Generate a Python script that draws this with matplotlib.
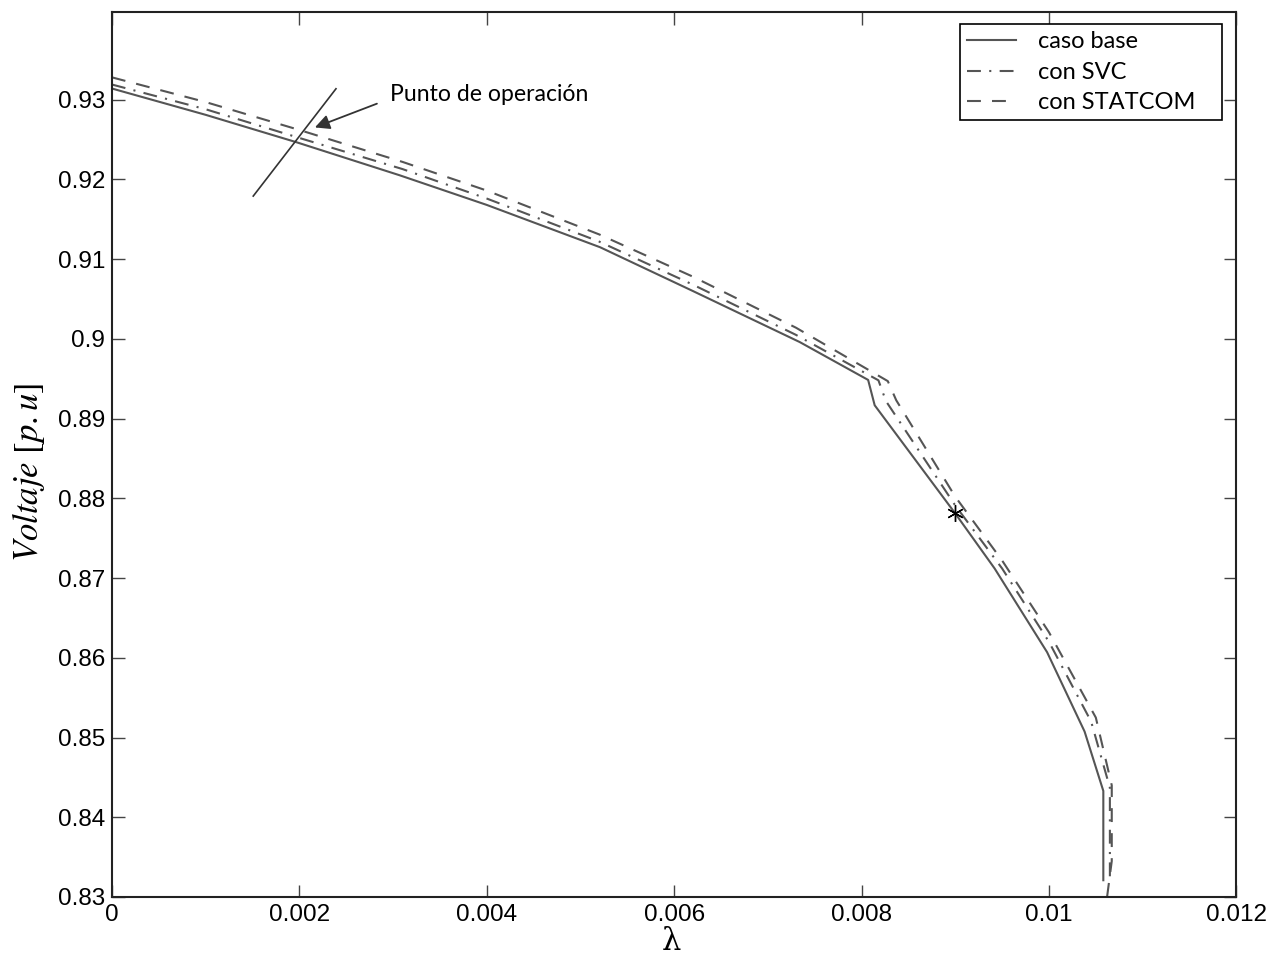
import numpy as np
import matplotlib
matplotlib.use("Agg")
import matplotlib.pyplot as plt

# curva P-V, valores
lam_base = [0.0, 0.001, 0.00197, 0.00307, 0.004, 0.00521, 0.0062, 0.00734, 0.00807, 0.00814,
            0.0090, 0.00942, 0.00998, 0.01038, 0.01058, 0.01058]
v_base = [0.9314, 0.9281, 0.92466, 0.92052, 0.9168, 0.91149, 0.9060, 0.8996, 0.89485, 0.89167,
          0.8781, 0.8712, 0.8607, 0.85075, 0.8433, 0.8321]

lam_svc = [0.0, 0.001, 0.002, 0.0031, 0.004, 0.0052, 0.0062, 0.0073, 0.00818, 0.00826,
           0.0090, 0.0095, 0.0100, 0.01045, 0.01065, 0.01065]
v_svc = [0.9319, 0.9288, 0.9252, 0.9213, 0.9176, 0.9122, 0.9068, 0.9005, 0.8948, 0.8922,
         0.8791, 0.8712, 0.8620, 0.8520, 0.8437, 0.8320]

lam_statcom = [0.0, 0.001, 0.002, 0.0031, 0.004, 0.0052, 0.0062, 0.0073, 0.00828, 0.00837,
               0.0090, 0.0095, 0.0100, 0.0105, 0.01067, 0.01067, 0.01062]
v_statcom = [0.9328, 0.9297, 0.9262, 0.9222, 0.9186, 0.9131, 0.9078, 0.9014, 0.8947, 0.8923,
             0.8802, 0.8722, 0.8632, 0.8525, 0.8440, 0.8345, 0.8300]

# punto de operacion y linea que lo cruza
op_line_lam = [0.001508, 0.002391]
op_line_v = [0.91791, 0.93137]
arrow_tail = (0.002828, 0.9295)
arrow_head = (0.002166, 0.92652)
star_lam = 0.0090
star_v = 0.8781

xticks = [0, 0.002, 0.004, 0.006, 0.008, 0.010, 0.012]
xticklabels = ["0", "0.002", "0.004", "0.006", "0.008", "0.01", "0.012"]
yticks = [0.83, 0.84, 0.85, 0.86, 0.87, 0.88, 0.89, 0.90, 0.91, 0.92, 0.93]
yticklabels = ["0.83", "0.84", "0.85", "0.86", "0.87", "0.88", "0.89", "0.9", "0.91", "0.92", "0.93"]

plt.rcParams["lines.scale_dashes"] = False
plt.rcParams["mathtext.fontset"] = "stix"
plt.rcParams["font.family"] = ["Liberation Sans", "DejaVu Sans"]

fig = plt.figure(figsize=(12.72, 9.58), dpi=100)
ax = fig.add_axes([0.088, 0.0637, 0.884, 0.9238])

col = "#555555"
ax.plot(lam_base, v_base, color=col, lw=1.5, label="caso base")
ax.plot(lam_svc, v_svc, color=col, lw=1.5, dashes=(10, 6, 1.5, 6), label="con SVC")
ax.plot(lam_statcom, v_statcom, color=col, lw=1.5, dashes=(10, 8), label="con STATCOM")
ax.plot(op_line_lam, op_line_v, color="#333333", lw=1.2)
ax.plot([star_lam], [star_v], marker=(6, 2, 0), color="black", ms=12, mew=1.0, ls="none")

ax.annotate("", xy=arrow_head, xytext=arrow_tail,
            arrowprops=dict(arrowstyle="-|>", color="#333333", lw=1.3, mutation_scale=22,
                            shrinkA=0, shrinkB=0))
ax.text(0.00297, 0.9307, "Punto de operación", fontsize=16.6, family=["Lato", "DejaVu Sans"],
        va="center", ha="left")

ax.set_xlim(0, 0.012)
ax.set_ylim(0.83, 0.941)
ax.set_xticks(xticks)
ax.set_xticklabels(xticklabels)
ax.set_yticks(yticks)
ax.set_yticklabels(yticklabels)
ax.tick_params(direction="in", length=9, width=1, color="#444444", top=True, right=True,
               labelsize=17.5, pad=5)
for s in ax.spines.values():
    s.set_linewidth(1.5)
    s.set_color("#222222")

ax.set_ylabel(r"$Voltaje\ [p.u]$", fontsize=25)
ax.yaxis.set_label_coords(-0.058, 0.48)
fig.text(0.528, 0.001, "λ", fontsize=22, family=["DejaVu Serif"], ha="center", va="bottom")

leg = ax.legend(loc="upper left", bbox_to_anchor=(0.7545, 0.8825, 0.233, 0.1035),
                mode="expand", borderaxespad=0,
                fancybox=False, framealpha=1, edgecolor="black", handlelength=2.05,
                handletextpad=0.93, labelspacing=0.4, borderpad=0.3,
                prop={"family": ["Lato", "DejaVu Sans"], "size": 17})
leg.get_frame().set_linewidth(1.2)

fig.savefig("out.png", dpi=100)
